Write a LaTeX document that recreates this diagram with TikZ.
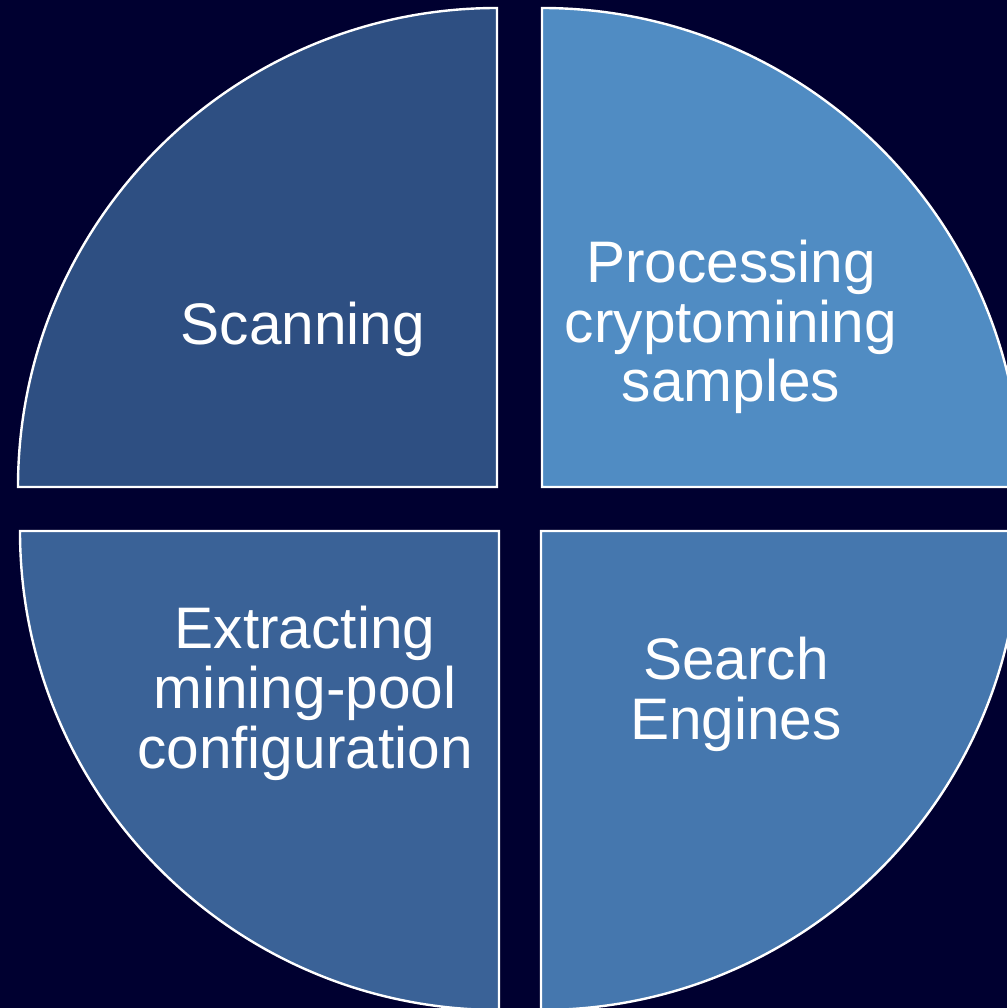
\documentclass[tikz,border=0pt]{standalone}
\usepackage{fontspec}
\setmainfont{Liberation Sans}
\definecolor{bgnavy}{HTML}{000030}
\definecolor{qone}{HTML}{2E4F82}
\definecolor{qtwo}{HTML}{508CC3}
\definecolor{qthree}{HTML}{3A6297}
\definecolor{qfour}{HTML}{4577AE}
\tikzset{
  quarter/.style={draw=white, line width=1.2pt, line join=miter},
  label/.style={text=white, align=center, inner sep=0pt,
    font=\fontsize{29.3pt}{29.9pt}\selectfont}
}
\begin{document}
\begin{tikzpicture}[x=1pt,y=1pt]
  % canvas
  \fill[bgnavy] (0,0) rectangle (503.5,504);
  \useasboundingbox (0,0) rectangle (503.5,504);
  \begin{scope}
    \clip (0,0) rectangle (503.5,504);
    % four quarter discs
    \filldraw[quarter, fill=qone]   (248.5,260.5) -- ++(-239.5,0)
      arc[start angle=180, end angle=90, radius=239.5] -- cycle;
    \filldraw[quarter, fill=qtwo]   (271,260.5) -- ++(0,239.5)
      arc[start angle=90, end angle=0, radius=239.5] -- cycle;
    \filldraw[quarter, fill=qthree] (249.5,238.5) -- ++(0,-239.5)
      arc[start angle=270, end angle=180, radius=239.5] -- cycle;
    \filldraw[quarter, fill=qfour]  (270.5,238.5) -- ++(239.5,0)
      arc[start angle=0, end angle=-90, radius=239.5] -- cycle;
  \end{scope}
  % labels
  \node[label, anchor=base] (scan) at (151.5,331.5) {Scanning};
  \node[label] (proc) at (365.5,340.5) {Processing\\cryptomining\\samples};
  \node[label] (extr) at (152.5,157.25) {Extracting\\mining-pool\\configuration};
  \node[label] (search) at (368,157) {Search\\Engines};
\end{tikzpicture}
\end{document}
